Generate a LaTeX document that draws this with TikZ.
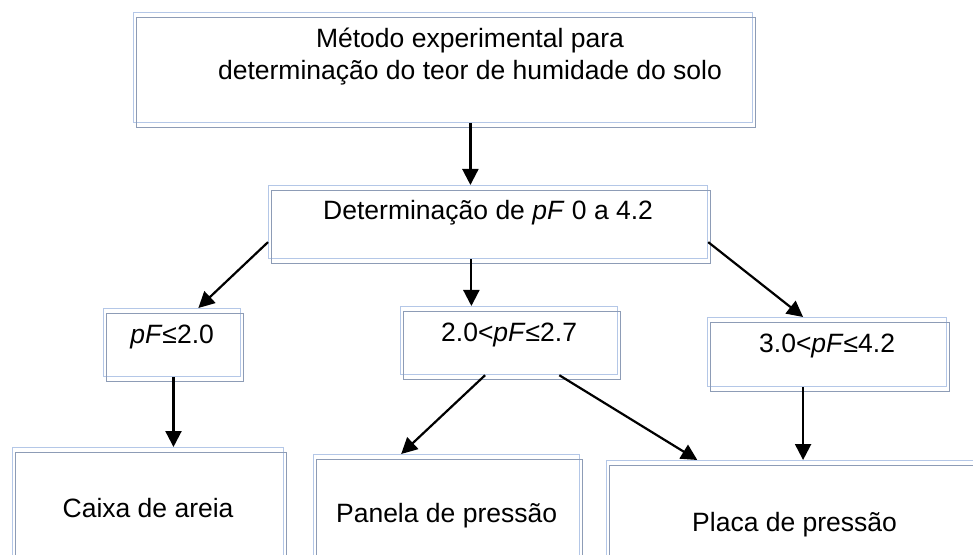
\documentclass[tikz,border=0pt]{standalone}
\usepackage{fontspec}
\setmainfont{Liberation Sans}
\usetikzlibrary{
  arrows.meta,
  calc,         % Calculations $...$
}
\definecolor{boxblue}{RGB}{180,199,231}
\definecolor{boxgrey}{RGB}{141,156,182}
\tikzset{
  x=0.5pt,
  y=-0.5pt,
  font=\fontsize{13.25}{16}\selectfont,
  >={Triangle[length=8pt,width=8pt]},
  my box/.style={
    draw=boxblue,
    line width=0.6pt,
    inner sep=0pt,
    anchor=north west,
    postaction={draw=boxgrey,transform canvas={shift={(1.5pt,-2.5pt)}}}
  },
  my text/.style={
    align=center,
    anchor=base
  },
  my arrow/.style={
    ->,
    line width=1.1pt
  }
}

\begin{document}
\begin{tikzpicture}
\useasboundingbox (0,0) rectangle (973,555);
\clip (0,0) rectangle (973,555);
% boxes
\node[my box,minimum width=309.5pt,minimum height=55pt] (meth) at (133,12) {};
\node[my text] (methtext) at (470,80) {Método experimental para\\determinação do teor de humidade do solo};
\node[my box,minimum width=219.5pt,text height=17pt,text depth=19.5pt] (det) at (268,185) {Determinação de \textit{pF} 0 a 4.2};
\node[my box,minimum width=68.5pt,text height=17.5pt,text depth=16.5pt] (le) at (103,308) {\textit{pF}≤2.0};
\node[my box,minimum width=108.5pt,text height=17.5pt,text depth=16.5pt] (mid) at (400,306) {2.0<\textit{pF}≤2.7};
\node[my box,minimum width=119.5pt,text height=17.5pt,text depth=17pt] (hi) at (707,317) {3.0<\textit{pF}≤4.2};
\node[my box,minimum width=135.5pt,text height=35pt,text depth=35pt] (caixa) at (12,447) {Caixa de areia};
\node[my box,minimum width=133pt,text height=34pt,text depth=36pt] (panela) at (313,454) {Panela de pressão};
\node[my box,minimum width=188pt,text height=35.5pt,text depth=34.5pt] (placa) at (606,460) {Placa de pressão};
% arrows
\coordinate (m1) at ($(meth.south west)!0.544!(meth.south east)$);
\coordinate (d1) at ($(det.south west)!0.462!(det.south east)$);
\coordinate (d2) at ($(det.north west)!0.77!(det.south west)$);
\coordinate (d3) at ($(det.north east)!0.77!(det.south east)$);
\coordinate (l1) at ($(le.south west)!0.51!(le.south east)$);
\coordinate (i1) at ($(mid.south west)!0.39!(mid.south east)$);
\coordinate (i2) at ($(mid.south west)!0.73!(mid.south east)$);
\coordinate (h1) at ($(hi.south west)!0.40!(hi.south east)$);
\draw[my arrow] (m1) -- (m1 |- det.north);
\draw[my arrow] (d1) -- (d1 |- mid.north);
\draw[my arrow] (d2) -- ($(le.north west)!0.69!(le.north east)$);
\draw[my arrow] (d3) -- ($(hi.north west)!0.40!(hi.north east)$);
\draw[my arrow] (l1) -- (l1 |- caixa.north);
\draw[my arrow] (i1) -- ($(panela.north west)!0.33!(panela.north east)$);
\draw[my arrow] (i2) -- ($(placa.north west)!0.242!(placa.north east)$);
\draw[my arrow] (h1) -- (h1 |- placa.north);
\end{tikzpicture}
\end{document}
